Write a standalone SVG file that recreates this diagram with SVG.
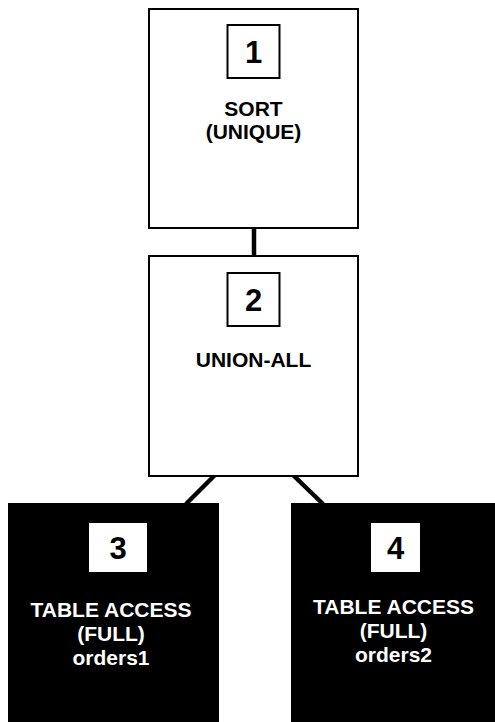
<svg xmlns="http://www.w3.org/2000/svg" width="495" height="722" viewBox="0 0 495 722">
<style>
.box{fill:#fff;stroke:#000;stroke-width:2}
.dark{fill:#000}
.num{fill:#fff;stroke:#000;stroke-width:2}
.numw{fill:#fff}
text{font-family:"Liberation Sans",Arial,sans-serif;font-weight:bold;text-anchor:middle}
.lbl{font-size:21px;fill:#000}
.lblw{font-size:21px;fill:#fff}
.d{font-size:31px;fill:#000}
.conn{stroke:#000;stroke-width:4.5;fill:none}
</style>
<rect width="495" height="722" fill="#fff"/>
<g id="connectors">
<line class="conn" x1="254" y1="228" x2="254" y2="257"/>
<line class="conn" x1="215" y1="475" x2="186" y2="504"/>
<line class="conn" x1="293" y1="475" x2="323" y2="504"/>
</g>
<g id="node1">
<rect class="box" x="149" y="9" width="209" height="219"/>
<rect class="num" x="227.5" y="25" width="52" height="53"/>
<text class="d" x="253.5" y="63">1</text>
<text class="lbl" x="253.5" y="116">SORT</text>
<text class="lbl" x="253.5" y="139">(UNIQUE)</text>
</g>
<g id="node2">
<rect class="box" x="149" y="256" width="209" height="220"/>
<rect class="num" x="227.5" y="273" width="52" height="53"/>
<text class="d" x="253.5" y="311">2</text>
<text class="lbl" x="253.5" y="367">UNION-ALL</text>
</g>
<g id="node3">
<rect class="dark" x="8" y="503" width="211" height="219"/>
<rect class="numw" x="89" y="523" width="58" height="49"/>
<text class="d" x="118" y="559" style="fill:#000">3</text>
<text class="lblw" x="111" y="617">TABLE ACCESS</text>
<text class="lblw" x="111" y="641">(FULL)</text>
<text class="lblw" x="111" y="665">orders1</text>
</g>
<g id="node4">
<rect class="dark" x="291" y="503" width="204" height="219"/>
<rect class="numw" x="371" y="523" width="49" height="49"/>
<text class="d" x="395.5" y="559" style="fill:#000">4</text>
<text class="lblw" x="393.5" y="614">TABLE ACCESS</text>
<text class="lblw" x="393.5" y="638">(FULL)</text>
<text class="lblw" x="393.5" y="662">orders2</text>
</g>
</svg>
